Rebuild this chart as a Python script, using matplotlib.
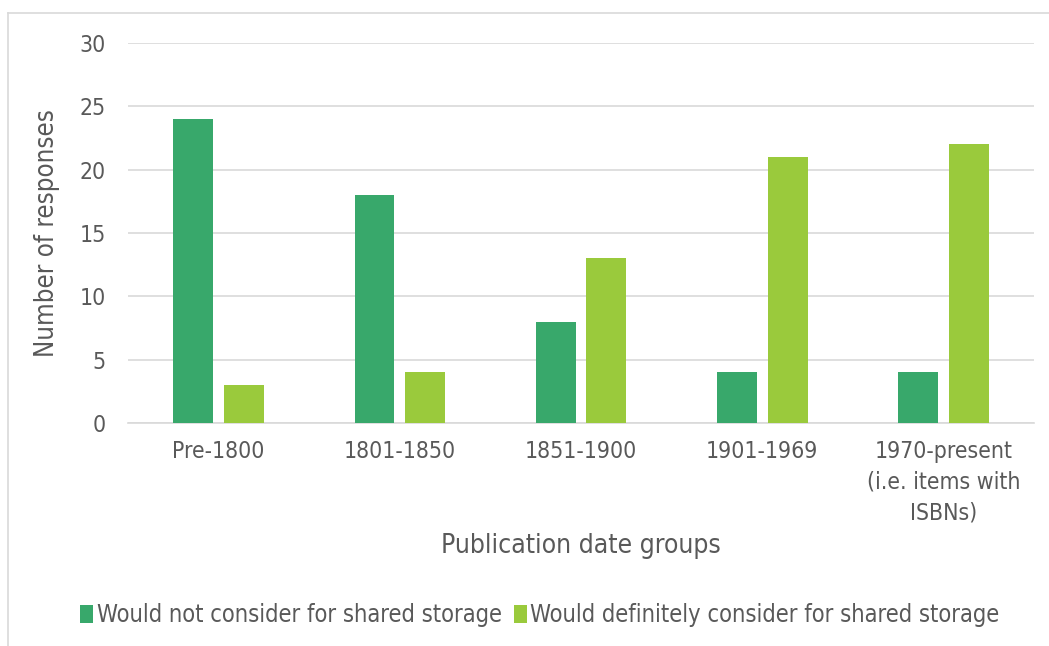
import matplotlib
matplotlib.use('Agg')
from matplotlib import pyplot as plt
from matplotlib.lines import Line2D
from matplotlib.font_manager import FontProperties
import numpy as np

groups = ["Pre-1800", "1801-1850", "1851-1900", "1901-1969",
          "1970-present\n(i.e. items with\nISBNs)"]
not_consider = [24, 18, 8, 4, 4]
definitely_consider = [3, 4, 13, 21, 22]
series_names = ["Would not consider for shared storage",
                "Would definitely consider for shared storage"]

dark_green = '#38A86B'
light_green = '#9ACA3C'
text_grey = '#595959'
grid_grey = '#D9D9D9'


def cond(size):
    return FontProperties(family='DejaVu Sans', stretch='condensed', size=size)


fig = plt.figure(figsize=(10.49, 6.46), dpi=100)
ax = fig.add_axes([128/1049, 1 - 423/646, (1034 - 128)/1049, (423 - 43)/646])

# outer chart border (light grey, cut at the right/bottom edge)
fig.add_artist(Line2D([8/1049, 1.0], [1 - 13/646, 1 - 13/646],
                      color='#D9D9D9', lw=1.2, transform=fig.transFigure))
fig.add_artist(Line2D([8/1049, 8/1049], [1 - 13/646, 0.0],
                      color='#D9D9D9', lw=1.2, transform=fig.transFigure))

x = np.arange(len(groups))
w = 0.22
gap = 0.06
ax.bar(x - (w + gap)/2, not_consider, w, color=dark_green, zorder=3,
       label=series_names[0])
ax.bar(x + (w + gap)/2, definitely_consider, w, color=light_green, zorder=3,
       label=series_names[1])

ax.set_xlim(-0.5, len(groups) - 0.5)
ax.set_ylim(0, 30)
ax.set_yticks(range(0, 31, 5))
ax.yaxis.grid(True, color=grid_grey, lw=1.2, zorder=0)
for s in ['top', 'right', 'left']:
    ax.spines[s].set_visible(False)
ax.spines['bottom'].set_color(grid_grey)
ax.spines['bottom'].set_linewidth(1.2)
ax.tick_params(length=0, colors=text_grey)
ax.tick_params(axis='y', pad=16)
ax.tick_params(axis='x', pad=12)
ax.set_xticks(x)
ax.set_xticklabels(groups, va='top', linespacing=1.45, fontproperties=cond(16.5))
ax.set_yticklabels([str(v) for v in range(0, 31, 5)], fontproperties=cond(16.5))

ax.set_ylabel("Number of responses", fontproperties=cond(18.5), color=text_grey,
              labelpad=14)
ax.set_xlabel("Publication date groups", fontproperties=cond(19), color=text_grey,
              labelpad=6)

fig.legend(loc='center', bbox_to_anchor=(540/1049, 1 - 615/646), ncol=2,
           frameon=False, prop=cond(17), labelcolor=text_grey,
           handlelength=0.55, handleheight=0.8, handletextpad=0.15,
           columnspacing=0.5)

fig.savefig('out.png', dpi=100)
